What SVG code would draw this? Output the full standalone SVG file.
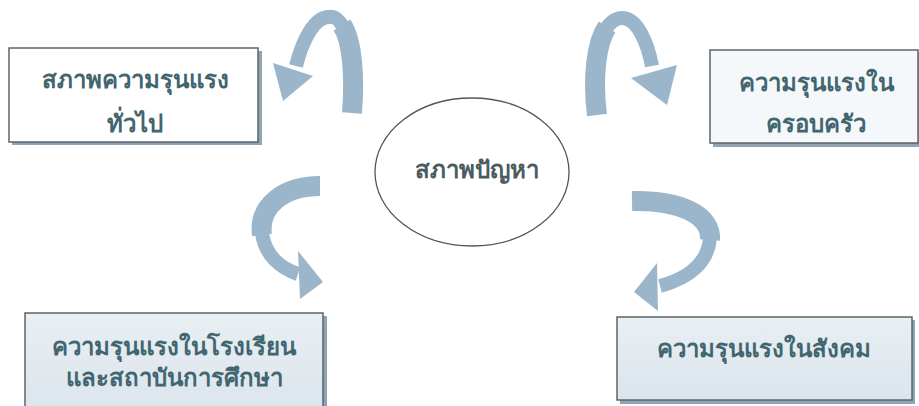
<svg xmlns="http://www.w3.org/2000/svg" width="919" height="406" viewBox="0 0 919 406">
<defs>
<linearGradient id="boxBlue" x1="0" y1="0" x2="0" y2="1">
<stop offset="0" stop-color="#e9eff3"/>
<stop offset="1" stop-color="#dbe5ec"/>
</linearGradient>
</defs>
<style>
.box{stroke:#5c6468;stroke-width:1.5}
.shadow{fill:#8ea4b4}
.lbl{font-family:"Noto Sans","DejaVu Sans",sans-serif;font-weight:bold;font-size:24px;fill:#41666f;text-anchor:middle}
.rib{fill:none;stroke:#9bb6ca;stroke-width:20;stroke-linecap:butt}
.thin{stroke-width:14}
.head{fill:#9bb6ca}
</style>
<rect width="919" height="406" fill="#ffffff"/>
<g id="connectors">
<path class="rib" d="M 352 113 C 355 75, 352 40, 342 25"/>
<path class="rib thin" d="M 344 28 C 338 18, 334 16, 330 17 C 314 16, 302 42, 296 66"/>
<polygon class="head" points="273,63 313,76 283,101"/>
<path class="rib" d="M 597 115 C 592 75, 597 42, 607 27"/>
<path class="rib thin" d="M 605 30 C 611 21, 616 18, 622 18 C 638 18, 648 45, 652 66"/>
<polygon class="head" points="631,78 677,65 667,105"/>
<path class="rib" d="M 320 186 C 285 186, 258 205, 262 235"/>
<path class="rib thin" d="M 262 233 C 265 255, 280 268, 298 274"/>
<polygon class="head" points="298,251 300,299 323,282"/>
<path class="rib" d="M 632 201 C 680 200, 712 215, 710 240"/>
<path class="rib thin" d="M 710 238 C 708 262, 690 278, 660 286"/>
<polygon class="head" points="657,263 658,311 634,292"/>
</g>
<g id="node-general">
<rect class="shadow" x="12" y="51" width="250" height="94"/>
<rect class="box" x="9" y="48" width="249" height="94" fill="#ffffff"/>
<text class="lbl" x="135" y="88">สภาพความรุนแรง</text>
<text class="lbl" x="135" y="132">ทั่วไป</text>
</g>
<g id="node-family">
<rect class="shadow" x="713" y="53" width="206" height="94"/>
<rect class="box" x="710" y="50" width="208" height="93" fill="#f5f8fa"/>
<text class="lbl" x="816" y="91">ความรุนแรงใน</text>
<text class="lbl" x="816" y="132">ครอบครัว</text>
</g>
<g id="node-center">
<ellipse cx="472" cy="172" rx="97" ry="74" fill="#ffffff" stroke="#555" stroke-width="1.3"/>
<text class="lbl" x="477" y="178" style="fill:#4b5b60">สภาพปัญหา</text>
</g>
<g id="node-school">
<rect class="shadow" x="28" y="316" width="299" height="95"/>
<rect class="box" x="25" y="313" width="298" height="98" fill="url(#boxBlue)"/>
<text class="lbl" x="174" y="355">ความรุนแรงในโรงเรียน</text>
<text class="lbl" x="174" y="386">และสถาบันการศึกษา</text>
</g>
<g id="node-society">
<rect class="shadow" x="620" y="320" width="295" height="84"/>
<rect class="box" x="617" y="317" width="295" height="83" fill="url(#boxBlue)"/>
<text class="lbl" x="764" y="357">ความรุนแรงในสังคม</text>
</g>
</svg>
